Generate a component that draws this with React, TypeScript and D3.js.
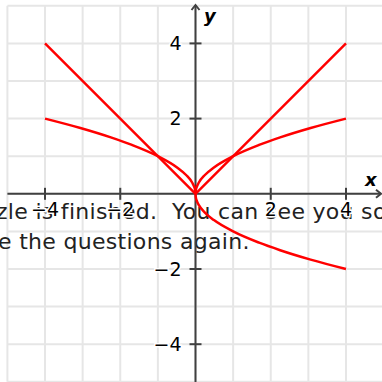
import React from "react";
import * as d3 from "d3";

// chart values
const gridTicks = [-5, -4, -3, -2, -1, 0, 1, 2, 3, 4, 5];
const axisTicks = [-4, -2, 2, 4];

// y = |x|
const absX = [-4, 0, 4];
const absY = [4, 0, 4];

// upper root branch, both sides
const rootX = [-4, -3.06, -2.25, -1.69, -1, -0.49, -0.25, -0.09, -0.04, -0.01, 0, 0.01, 0.04, 0.09, 0.25, 0.49, 1, 1.69, 2.25, 3.06, 4];
const rootY = [2, 1.75, 1.5, 1.3, 1, 0.7, 0.5, 0.3, 0.2, 0.1, 0, 0.1, 0.2, 0.3, 0.5, 0.7, 1, 1.3, 1.5, 1.75, 2];

// lower root branch, right side only
const lowX = [0, 0.01, 0.04, 0.09, 0.25, 0.49, 1, 1.69, 2.25, 3.06, 4];
const lowY = [0, -0.1, -0.2, -0.3, -0.5, -0.7, -1, -1.3, -1.5, -1.75, -2];

// message text lying over the chart (two spaces after the full stop)
const messageLines = ["zle is finished.\u00A0 You can see you so", "e the questions again."];

const W = 382;
const H = 382;

const App = () => {
  const x = d3.scaleLinear().domain([-5, 5]).range([7.4, 383.6]);
  const y = d3.scaleLinear().domain([-5, 5]).range([381.8, 5.8]);

  const line = d3
    .line<[number, number]>()
    .x((d) => x(d[0]))
    .y((d) => y(d[1]))
    .curve(d3.curveMonotoneX);

  const zip = (xs: number[], ys: number[]) => xs.map((v, i) => [v, ys[i]] as [number, number]);
  // the two root halves are drawn separately so the cusp stays sharp
  const rootLeft = zip(rootX, rootY).filter((d) => d[0] <= 0);
  const rootRight = zip(rootX, rootY).filter((d) => d[0] >= 0);
  const curves = [
    zip(absX, absY).slice(0, 2),
    zip(absX, absY).slice(1),
    rootLeft,
    rootRight,
    zip(lowX, lowY),
  ];

  const x0 = x(0);
  const y0 = y(0);
  const axisColor = "#404040";
  const labelFont = "'DejaVu Sans', sans-serif";

  return (
    <svg
      width={W}
      height={H}
      style={{ position: "fixed", left: 0, top: 0, background: "#fff" }}
    >
      <rect width={W} height={H} fill="#fff" />
      <g stroke="#e6e6e6" strokeWidth={2}>
        {gridTicks.map((t) => (
          <line key={"v" + t} x1={x(t)} x2={x(t)} y1={y(5)} y2={y(-5)} />
        ))}
        {gridTicks.map((t) => (
          <line key={"h" + t} x1={x(-5)} x2={x(5)} y1={y(t)} y2={y(t)} />
        ))}
      </g>

      <g fill="#222" fontFamily="'DejaVu Sans', sans-serif" fontSize={22} letterSpacing={0.3}>
        <text x={-4} y={219}>{messageLines[0]}</text>
        <text x={-2} y={249}>{messageLines[1]}</text>
      </g>

      <g stroke={axisColor} strokeWidth={2} fill="none">
        <line x1={x(-5)} x2={381} y1={y0} y2={y0} />
        <polyline points={`${376},${y0 - 4} ${381},${y0} ${376},${y0 + 4}`} />
        <line x1={x0} x2={x0} y1={y(-5.05)} y2={5} />
        <polyline points={`${x0 - 4},${10} ${x0},${5} ${x0 + 4},${10}`} />
        {axisTicks.map((t) => (
          <line key={"tx" + t} x1={x(t)} x2={x(t)} y1={y0 - 6} y2={y0 + 6} />
        ))}
        {axisTicks.map((t) => (
          <line key={"ty" + t} x1={x0 - 6} x2={x0 + 6} y1={y(t)} y2={y(t)} />
        ))}
      </g>

      <g stroke="#ff0000" strokeWidth={2.5} fill="none" strokeLinejoin="round">
        {curves.map((c, i) => (
          <path key={i} d={line(c) ?? ""} />
        ))}
      </g>

      <g
        fontFamily={labelFont}
        fontSize={19}
        fill="#000"
        stroke="#fff"
        strokeWidth={3}
        style={{ paintOrder: "stroke" }}
      >
        {axisTicks.map((t) => (
          <text key={"lx" + t} x={x(t)} y={y0 + 22} textAnchor="middle">
            {t < 0 ? "\u2212" + Math.abs(t) : t}
          </text>
        ))}
        {axisTicks.map((t) => (
          <text key={"ly" + t} x={x0 - 14} y={y(t)} dy="0.35em" textAnchor="end">
            {t < 0 ? "\u2212" + Math.abs(t) : t}
          </text>
        ))}
      </g>

      <g fontFamily={labelFont} fontSize={18} fontStyle="italic" fontWeight="bold" fill="#000">
        <text x={365} y={186}>x</text>
        <text x={204} y={22}>y</text>
      </g>
    </svg>
  );
};

export default App;
